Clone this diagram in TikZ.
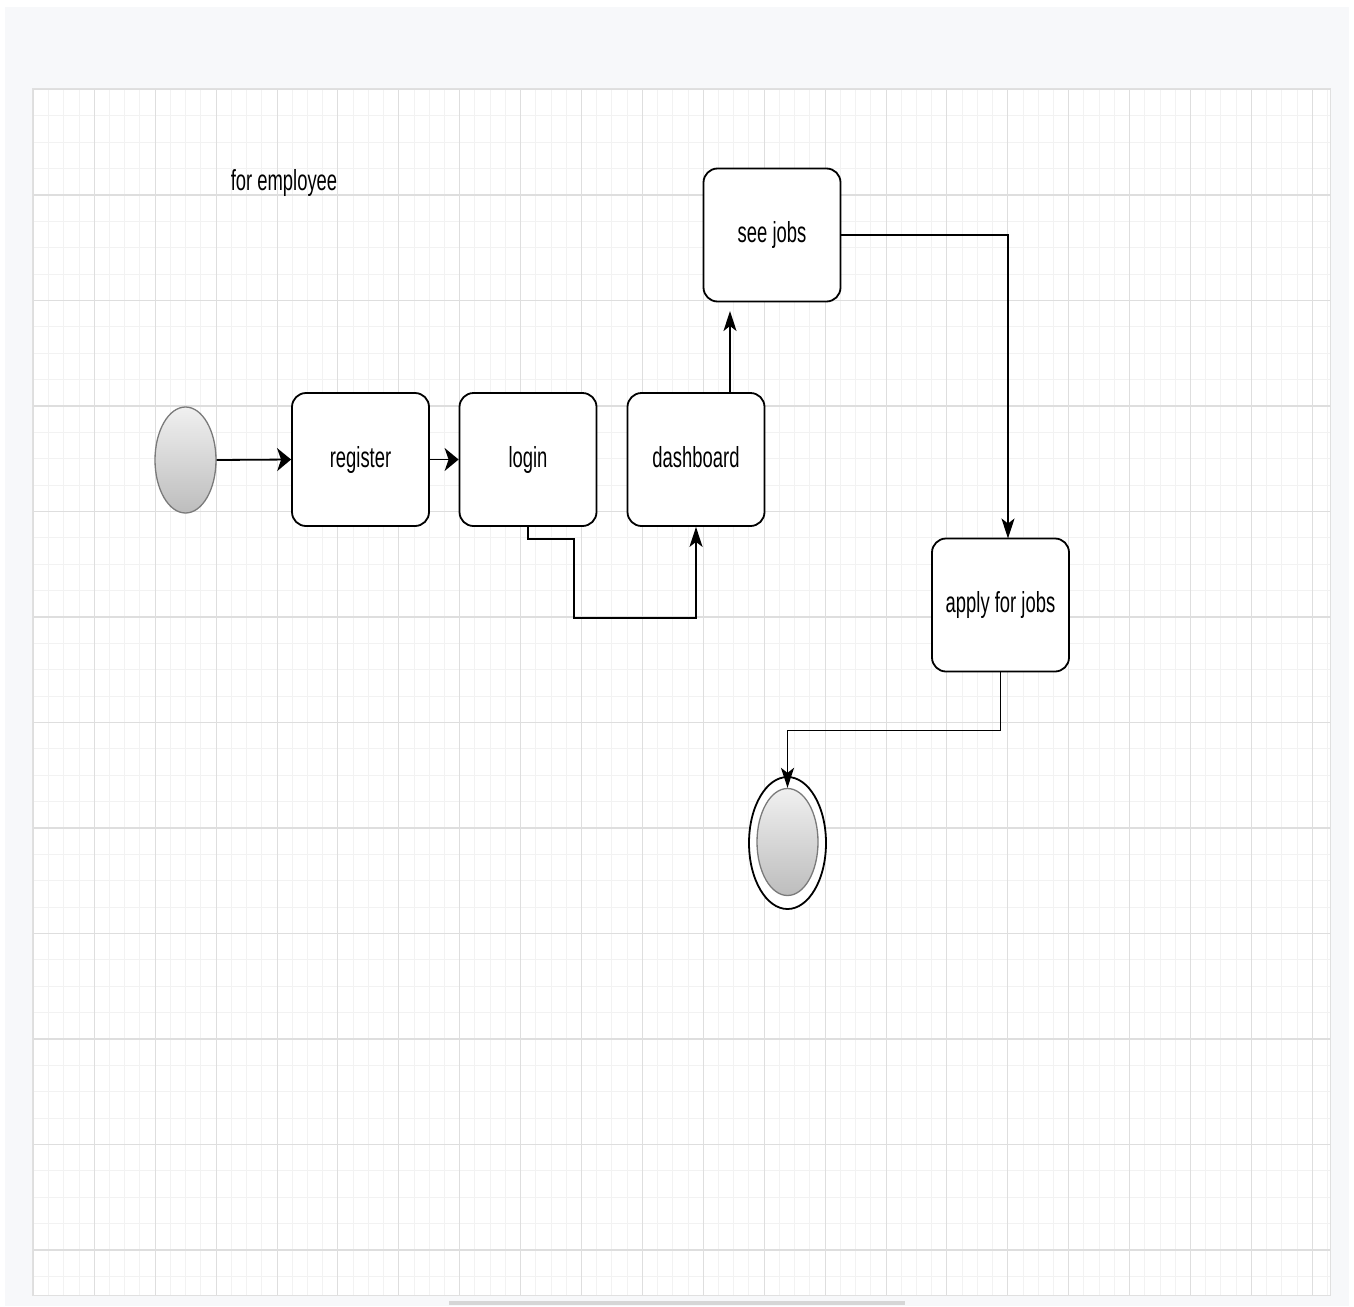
\documentclass[tikz,border=0pt]{standalone}
\usepackage{graphicx}
\usepackage{fontspec}
\setmainfont{Liberation Sans}
\usetikzlibrary{shapes.geometric,arrows.meta}
\definecolor{pagebg}{HTML}{F7F8FA}
\definecolor{gridmajor}{HTML}{DEDEDE}
\definecolor{gridminor}{HTML}{F2F2F2}
\definecolor{startborder}{HTML}{7A7A7A}
\definecolor{shadetop}{HTML}{F0F0F0}
\definecolor{shadebot}{HTML}{BDBDBD}
\newcommand\sqz[1]{\scalebox{0.635}[1]{#1}}
\begin{document}
\begin{tikzpicture}[x=1pt,y=-1pt,
  every node/.style={font=\fontsize{29}{34}\selectfont},
  actbox/.style={draw=black, line width=1.8pt, rounded corners=14pt, fill=white,
    minimum width=137pt, minimum height=133pt, inner sep=0pt, text height=20pt, text depth=5pt},
  startnode/.style={ellipse, draw=startborder, line width=1.3pt, top color=shadetop, bottom color=shadebot,
    inner sep=0pt},
  flow/.style={line width=1.8pt, draw=black},
  harrow/.style={-{Stealth[length=14pt,width=23pt,inset=4pt]}},
  varrow/.style={-{Stealth[length=20pt,width=13pt,inset=5pt]}},
]
\useasboundingbox (0,0) rectangle (1354,1306);
\fill[white] (0,0) rectangle (1354,1306);
\fill[pagebg] (5,7) rectangle (1349,1306);
% canvas
\fill[white] (32,88) rectangle (1330,1295);
\begin{scope}
\clip (32,88) rectangle (1330,1295);
\foreach \i in {0,...,86} {
  \pgfmathsetmacro\xx{33.4+15.225*\i}
  \draw[gridminor, line width=1pt] (\xx,88) -- (\xx,1295);
}
\foreach \i in {0,...,46} {
  \pgfmathsetmacro\yy{89.5+26.375*\i}
  \draw[gridminor, line width=1pt] (32,\yy) -- (1330,\yy);
}
\foreach \i in {0,...,21} {
  \pgfmathsetmacro\xx{33.4+60.9*\i}
  \draw[gridmajor, line width=1pt] (\xx,88) -- (\xx,1295);
}
\foreach \i in {0,...,11} {
  \pgfmathsetmacro\yy{89.5+105.5*\i}
  \draw[gridmajor, line width=1.2pt] (32,\yy) -- (1330,\yy);
}
\end{scope}
\draw[black!12, line width=1pt] (32,88) rectangle (1330,1295);
\fill[black!16] (449,1301) rectangle (905,1305);

% title
\node (title) at (284,183) {\sqz{for employee}};

% nodes
\node[startnode, minimum width=61pt, minimum height=106pt] (init) at (185.5,460) {};
\node[actbox] (reg) at (360.5,459.5) {\sqz{register}};
\node[actbox] (login) at (528,459.5) {\sqz{login}};
\node[actbox] (dash) at (696,459.5) {\sqz{dashboard}};
\node[actbox] (see) at (772,235) {\sqz{see jobs}};
\node[actbox] (apply) at (1000.5,605) {\sqz{apply for jobs}};
\node[ellipse, draw=black, line width=1.8pt, fill=white, inner sep=0pt,
  minimum width=77pt, minimum height=132pt] (fin) at (787.5,843) {};
\node[startnode, minimum width=61pt, minimum height=107pt] (finin) at (787.5,842) {};

% helper coordinates
\coordinate (seetip) at (730,311);
\coordinate (applyin) at (1008,538.5);
\coordinate (lbend) at (574,539);

% connectors
\draw[flow,harrow] (init.east) -- (reg.west);
\draw[flow,harrow] (reg.east) -- (login.west);
\draw[flow,varrow] (login.south) |- (lbend) -- (574,618) -| (dash.south);
\draw[flow,varrow] (dash.north -| seetip) -- (seetip);
\draw[flow,varrow] (see.east) -| (applyin);
\draw[flow,varrow] (apply.south) -- ++(0,58) -| (finin.north);
\end{tikzpicture}
\end{document}
